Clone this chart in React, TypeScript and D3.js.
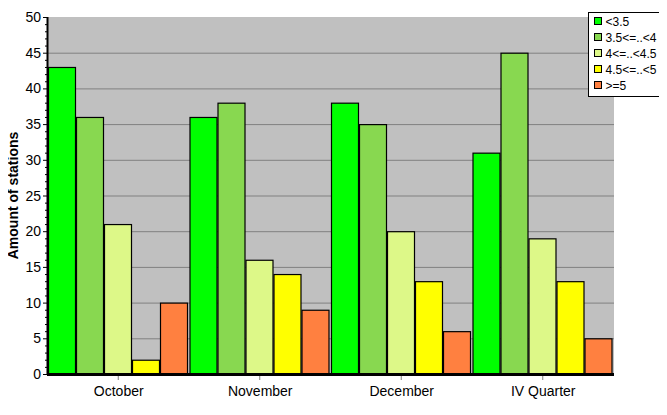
import * as d3 from "d3";
import React, { useEffect, useRef } from "react";

const months = ["October", "November", "December", "IV Quarter"];
const classes = ["<3.5", "3.5<=..<4", "4<=..<4.5", "4.5<=..<5", ">=5"];
const colors = ["#00FF00", "#88D850", "#DDF888", "#FFFF00", "#FF8040"];
const values = [
  [43, 36, 21, 2, 10],
  [36, 38, 16, 14, 9],
  [38, 35, 20, 13, 6],
  [31, 45, 19, 13, 5],
];
const yTicks = [0, 5, 10, 15, 20, 25, 30, 35, 40, 45, 50];

const App: React.FC = () => {
  const svgRef = useRef<SVGSVGElement | null>(null);

  useEffect(() => {
    if (!svgRef.current) return;
    const svg = d3.select(svgRef.current);
    svg.selectAll("*").remove();

    const width = 667;
    const height = 415;
    const margin = { top: 17, right: 53, bottom: 41, left: 48 };
    const font = "Liberation Sans, Arial, sans-serif";

    const x0 = d3
      .scaleBand()
      .domain(months)
      .range([margin.left, width - margin.right])
      .paddingInner(0)
      .paddingOuter(0);
    const x1 = d3
      .scaleBand()
      .domain(classes)
      .range([0, x0.bandwidth() - 1.5]);
    const y = d3
      .scaleLinear()
      .domain([0, 50])
      .range([height - margin.bottom, margin.top]);

    // plot background
    svg
      .append("rect")
      .attr("x", margin.left)
      .attr("y", margin.top)
      .attr("width", width - margin.left - margin.right)
      .attr("height", height - margin.top - margin.bottom)
      .attr("fill", "#C0C0C0");

    // gridlines
    svg
      .append("g")
      .selectAll("line")
      .data(yTicks.slice(1, -1))
      .enter()
      .append("line")
      .attr("x1", margin.left)
      .attr("x2", width - margin.right)
      .attr("y1", (d) => y(d) + 0.5)
      .attr("y2", (d) => y(d) + 0.5)
      .attr("stroke", "#808080");

    // bars
    const groups = svg
      .append("g")
      .selectAll("g")
      .data(values)
      .enter()
      .append("g")
      .attr("transform", (_, i) => `translate(${x0(months[i])},0)`);
    groups
      .selectAll("rect")
      .data((d) => d)
      .enter()
      .append("rect")
      .attr("x", (_, j) => x1(classes[j])! + 0.5)
      .attr("y", (d) => y(d) + 0.5)
      .attr("width", x1.bandwidth() - 1)
      .attr("height", (d) => y(0) - y(d))
      .attr("fill", (_, j) => colors[j])
      .attr("stroke", "#000")
      .attr("stroke-width", 1.2);

    // y axis
    const yMinor = d3.range(0, 51, 1);
    svg
      .append("g")
      .selectAll("line")
      .data(yMinor)
      .enter()
      .append("line")
      .attr("x1", (d) => (d % 5 === 0 ? margin.left - 5 : margin.left - 3))
      .attr("x2", margin.left)
      .attr("y1", (d) => y(d) + 0.5)
      .attr("y2", (d) => y(d) + 0.5)
      .attr("stroke", "#000");
    svg
      .append("line")
      .attr("x1", margin.left - 0.5)
      .attr("x2", margin.left - 0.5)
      .attr("y1", margin.top)
      .attr("y2", y(0) + 1)
      .attr("stroke", "#000")
      .attr("stroke-width", 2);
    svg
      .append("g")
      .selectAll("text")
      .data(yTicks)
      .enter()
      .append("text")
      .attr("x", margin.left - 7)
      .attr("y", (d) => y(d) + 5)
      .attr("text-anchor", "end")
      .attr("font-family", font)
      .attr("font-size", "14px")
      .text((d) => d);

    // x axis
    svg
      .append("line")
      .attr("x1", margin.left - 1)
      .attr("x2", width - margin.right)
      .attr("y1", y(0) + 0.5)
      .attr("y2", y(0) + 0.5)
      .attr("stroke", "#000")
      .attr("stroke-width", 3);
    svg
      .append("g")
      .selectAll("line")
      .data(months)
      .enter()
      .append("line")
      .attr("x1", (d) => x0(d)! + x0.bandwidth() / 2 - 0.5)
      .attr("x2", (d) => x0(d)! + x0.bandwidth() / 2 - 0.5)
      .attr("y1", y(0) + 2)
      .attr("y2", y(0) + 6)
      .attr("stroke", "#808080");
    svg
      .append("g")
      .selectAll("text")
      .data(months)
      .enter()
      .append("text")
      .attr("x", (d) => x0(d)! + x0.bandwidth() / 2)
      .attr("y", y(0) + 22)
      .attr("text-anchor", "middle")
      .attr("font-family", font)
      .attr("font-size", "14px")
      .text((d) => d);

    // y label
    svg
      .append("text")
      .attr("transform", `translate(18,${(margin.top + y(0)) / 2}) rotate(-90)`)
      .attr("text-anchor", "middle")
      .attr("font-family", font)
      .attr("font-size", "14px")
      .attr("font-weight", "bold")
      .text("Amount of stations");

    // legend
    const lg = svg.append("g").attr("transform", "translate(588.5,12.5)");
    lg.append("rect")
      .attr("width", 73)
      .attr("height", 84)
      .attr("fill", "#fff")
      .attr("stroke", "#000");
    const items = lg
      .selectAll("g")
      .data(classes)
      .enter()
      .append("g")
      .attr("transform", (_, i) => `translate(0,${9 + i * 16})`);
    items
      .append("rect")
      .attr("x", 6)
      .attr("y", -4)
      .attr("width", 7)
      .attr("height", 7)
      .attr("fill", (_, i) => colors[i])
      .attr("stroke", "#000");
    items
      .append("text")
      .attr("x", 17)
      .attr("y", 4)
      .attr("font-family", font)
      .attr("font-size", "12px")
      .text((d) => d);
  }, []);

  return <svg ref={svgRef} width={667} height={415} style={{ display: "block", margin: -8 }} />;
};

export default App;
